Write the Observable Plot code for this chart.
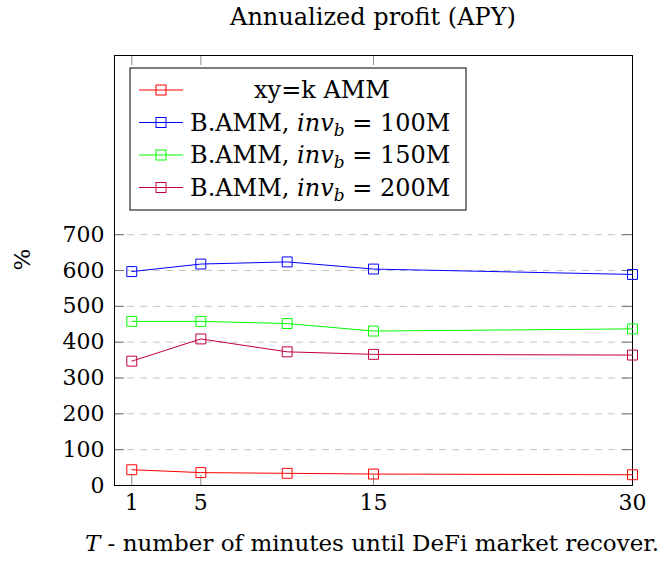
<!DOCTYPE html>
<html>
<head>
<meta charset="utf-8">
<script src="https://cdn.jsdelivr.net/npm/d3@7"></script>
<script src="https://cdn.jsdelivr.net/npm/@observablehq/plot@0.6"></script>
<style>
  html, body { margin: 0; padding: 0; background: #fff; }
  #title { box-sizing: border-box; width: 661px; height: 40px; padding-left: 85px; text-align: center;
           font-family: "DejaVu Serif", serif; font-size: 24px; line-height: 34px; color: #000; white-space: nowrap; }
  #chart svg { display: block; }
</style>
</head>
<body>
<div id="title">Annualized profit (APY)</div>
<div id="chart"></div>
<script>
const xValues = [1, 5, 10, 15, 30];
const seriesNames = ["xy=k AMM", "B.AMM, inv_b = 100M", "B.AMM, inv_b = 150M", "B.AMM, inv_b = 200M"];
const seriesColors = ["#ff0000", "#0000ff", "#00ff00", "#bf0040"];
const xykAMM = [44, 36, 34, 32, 30];
const bamm100 = [597, 618, 624, 604, 589];
const bamm150 = [458, 458, 452, 431, 437];
const bamm200 = [347, 409, 373, 366, 364];
const xTicks = [1, 5, 15, 30];
const yTicks = [0, 100, 200, 300, 400, 500, 600, 700];
const xLabel = ["T", " - number of minutes until DeFi market recover."];
const yLabel = "%";

const allSeries = [xykAMM, bamm100, bamm150, bamm200];
const data = [];
allSeries.forEach((vals, i) => vals.forEach((v, j) => data.push({s: seriesNames[i], x: xValues[j], y: v})));

const W = 661, H = 521, mL = 114, mR = 29, mT = 15, mB = 76;
const fw = W - mL - mR, fh = H - mT - mB;
const font = "DejaVu Serif";
const fs = 22;

const plot = Plot.plot({
  width: W, height: H,
  marginLeft: mL, marginRight: mR, marginTop: mT, marginBottom: mB,
  style: {fontFamily: font, fontSize: fs + "px", color: "#000", background: "#fff"},
  x: {domain: [0, 30]},
  y: {domain: [0, 1200]},
  color: {domain: seriesNames, range: seriesColors},
  marks: [
    Plot.ruleY(yTicks.filter(d => d > 0), {stroke: "#c4c4c4", strokeWidth: 1, strokeDasharray: "7,6"}),
    Plot.tickX(xTicks, {x: d => d, stroke: "#8c8c8c", insetTop: fh - 10}),
    Plot.tickX(xTicks, {x: d => d, stroke: "#8c8c8c", insetBottom: fh - 10}),
    Plot.tickY(yTicks, {y: d => d, stroke: "#6e6e6e", insetLeft: fw - 10}),
    Plot.tickY(yTicks, {y: d => d, stroke: "#6e6e6e", insetRight: fw - 10}),
    Plot.frame({stroke: "#000", strokeWidth: 1}),
    Plot.line(data, {x: "x", y: "y", z: "s", stroke: "s", strokeWidth: 1}),
    Plot.dot(data, {x: "x", y: "y", stroke: "s", symbol: "square", r: 5.6, fill: "none", strokeWidth: 1}),
    Plot.axisX({ticks: xTicks, tickSize: 0, tickPadding: 9, label: null, tickFormat: d => String(d)}),
    Plot.axisY({ticks: yTicks, tickSize: 0, tickPadding: 10, label: null, tickFormat: d => String(d)}),
    Plot.text([yLabel], {text: d => d, frameAnchor: "left", dx: -92, rotate: -90, fontSize: 23})
  ]
});
document.getElementById("chart").appendChild(plot);

const svg = d3.select(plot);
const xs = plot.scale("x");
const cx = (xs.range[0] + xs.range[1]) / 2;

// x label
const xl = svg.append("text")
  .attr("x", cx - 1).attr("y", H - 10)
  .attr("text-anchor", "middle")
  .attr("font-family", font).attr("font-size", 23).attr("fill", "#000");
xl.append("tspan").attr("font-style", "italic").text(xLabel[0]);
xl.append("tspan").text(xLabel[1]);

// legend
const lfs = 24;
const lg = svg.append("g");
const bx = 130, by = 28, bw = 336, bh = 142;
lg.append("rect").attr("x", bx).attr("y", by).attr("width", bw).attr("height", bh)
  .attr("fill", "#fff").attr("stroke", "#000").attr("stroke-width", 1);
const rowY = [50, 82.5, 115, 147.5];
seriesNames.forEach((name, i) => {
  const y = rowY[i];
  lg.append("line").attr("x1", 139).attr("x2", 183).attr("y1", y).attr("y2", y)
    .attr("stroke", seriesColors[i]).attr("stroke-width", 1);
  lg.append("rect").attr("x", 156).attr("y", y - 5).attr("width", 10).attr("height", 10)
    .attr("fill", "none").attr("stroke", seriesColors[i]).attr("stroke-width", 1);
  const t = lg.append("text").attr("y", y + 8)
    .attr("font-family", font).attr("font-size", lfs).attr("fill", "#000");
  if (i === 0) {
    t.attr("x", 322).attr("text-anchor", "middle").text(name);
  } else {
    const m = name.match(/^(.*, )inv_b( = .*)$/);
    t.attr("x", 190).attr("text-anchor", "start");
    t.append("tspan").text(m[1]);
    t.append("tspan").attr("font-style", "italic").text("inv");
    t.append("tspan").attr("font-style", "italic").attr("font-size", 17).attr("dy", 5).text("b");
    t.append("tspan").attr("dy", -5).text(m[2]);
  }
});
</script>
</body>
</html>
